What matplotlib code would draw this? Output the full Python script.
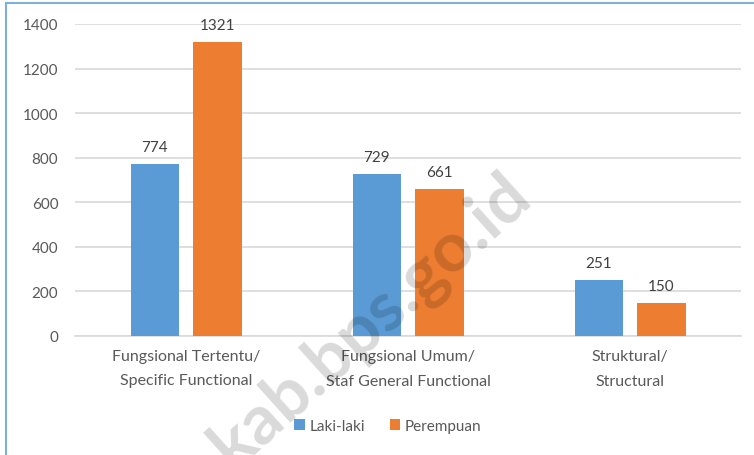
import matplotlib
matplotlib.use("Agg")
import matplotlib.pyplot as plt
import numpy as np
from matplotlib.patches import Rectangle

categories = ["Fungsional Tertentu/\nSpecific Functional",
              "Fungsional Umum/\nStaf General Functional",
              "Struktural/\nStructural"]
laki = [774, 729, 251]
perempuan = [1321, 661, 150]
series_names = ["Laki-laki", "Perempuan"]
yticks = [0, 200, 400, 600, 800, 1000, 1200, 1400]

plt.rcParams['font.family'] = ['Lato', 'DejaVu Sans']
txt = '#595959'
blue = '#5B9BD5'
orange = '#ED7D31'

fig = plt.figure(figsize=(7.54, 4.56), dpi=100)
ax = fig.add_axes([75/754, 1-337/456, 666/754, 312/456])

x = np.arange(len(categories))
w = 0.22
off = 0.14
b1 = ax.bar(x - off, laki, w, color=blue, label=series_names[0], zorder=3)
b2 = ax.bar(x + off, perempuan, w, color=orange, label=series_names[1], zorder=3)
for bars in (b1, b2):
    for r in bars:
        ax.annotate(f"{int(r.get_height())}", (r.get_x() + r.get_width()/2, r.get_height()),
                    xytext=(0, 7), textcoords='offset points', ha='center', va='bottom',
                    fontsize=11, color='#404040')

ax.set_xlim(-0.5, 2.5)
ax.set_ylim(0, 1400)
ax.set_yticks(yticks)
ax.set_xticks(x)
ax.set_xticklabels(categories, fontsize=11.5, color=txt, linespacing=2.0)
ax.tick_params(axis='y', labelsize=11, labelcolor=txt, length=0, pad=12)
ax.tick_params(axis='x', length=0, pad=9)
ax.grid(axis='y', color='#D9D9D9', linewidth=1.2, zorder=0)
for s in ['top', 'right', 'left']:
    ax.spines[s].set_visible(False)
ax.spines['bottom'].set_color('#D9D9D9')
ax.spines['bottom'].set_linewidth(1.2)

fig.legend(handles=[b1, b2], labels=series_names, loc='center', ncol=2,
           bbox_to_anchor=(388/754, 1-427/456), frameon=False, fontsize=11,
           handlelength=0.7, handleheight=0.7, handletextpad=0.3, columnspacing=1.6,
           labelcolor=txt)

# frame
fig.patches.append(Rectangle((6/754, -0.1), 1.2, (1-3.5/456) + 0.1, transform=fig.transFigure,
                             fill=False, edgecolor='#7EAEDC', linewidth=1.5))

# watermark
fig.text(522/754, 1-186/456, "kab.bps.go.id", rotation=42, rotation_mode='anchor',
         ha='right', va='center', fontsize=50, fontweight='bold', color='black', alpha=0.15,
         zorder=10)

fig.savefig("out.png", dpi=100)
